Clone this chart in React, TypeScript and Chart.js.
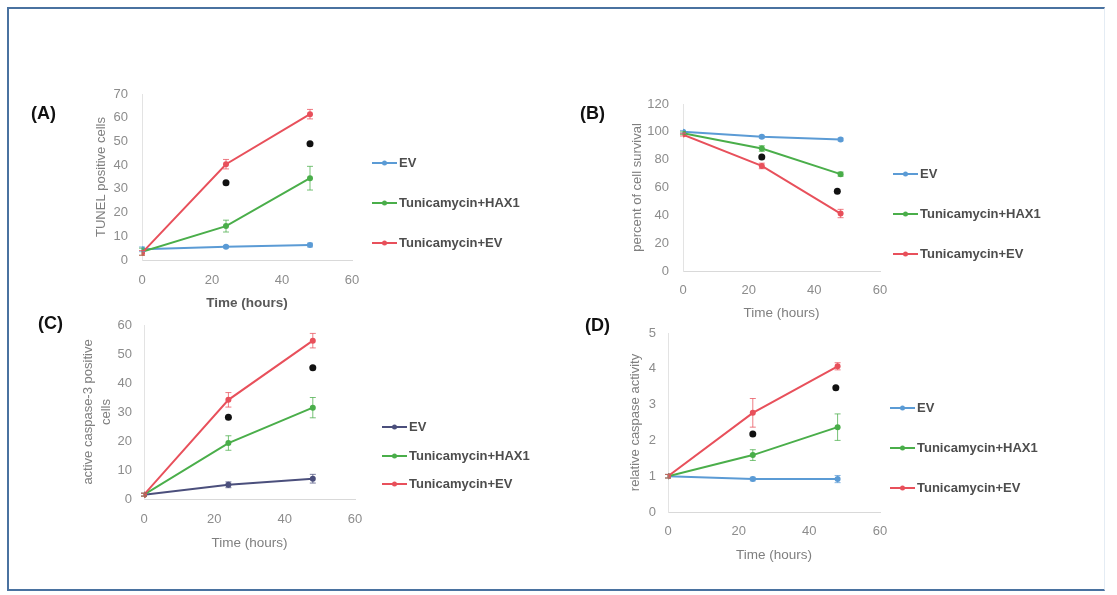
import React, { useEffect, useRef } from "react";
import { Chart, registerables } from "chart.js";

Chart.register(...registerables);

// ---------- shared data ----------
const timeHours = [0, 24, 48];
const seriesLabels = ["EV", "Tunicamycin+HAX1", "Tunicamycin+EV"];
const starTimes = [24, 48];

// ---------- (A) TUNEL positive cells ----------
const tunelEV = [4.5, 5.6, 6.3];
const tunelEVErr = [1, 0.5, 0.8];
const tunelHAX1 = [3.5, 14.3, 34.5];
const tunelHAX1Err = [1.5, 2.5, 5];
const tunelTunEV = [3, 40.4, 61.5];
const tunelTunEVErr = [1, 2, 2];
const tunelStars = [32.6, 49];

// ---------- (B) percent of cell survival ----------
const survivalEV = [100, 96.5, 94.5];
const survivalEVErr = [1, 1, 1];
const survivalHAX1 = [99, 88, 69.6];
const survivalHAX1Err = [1, 2, 1.5];
const survivalTunEV = [98, 75.5, 41.3];
const survivalTunEVErr = [1, 2, 3];
const survivalStarTimes = [24, 47];
const survivalStars = [82, 57.3];

// ---------- (C) active caspase-3 positive cells ----------
const casp3EV = [1.5, 4.9, 7.0];
const casp3EVErr = [0.5, 1, 1.5];
const casp3HAX1 = [1.5, 19.3, 31.5];
const casp3HAX1Err = [0.5, 2.5, 3.5];
const casp3TunEV = [1.5, 34.2, 54.6];
const casp3TunEVErr = [0.5, 2.5, 2.5];
const casp3Stars = [28.2, 45.3];

// ---------- (D) relative caspase activity ----------
const caspActEV = [1, 0.92, 0.92];
const caspActEVErr = [0.05, 0.05, 0.1];
const caspActHAX1 = [1, 1.59, 2.37];
const caspActHAX1Err = [0.05, 0.15, 0.37];
const caspActTunEV = [1, 2.77, 4.07];
const caspActTunEVErr = [0.05, 0.4, 0.1];
const caspActStarTimes = [24, 47.5];
const caspActStars = [2.18, 3.47];

// ---------- axes ----------
const xMax = 60;
const xStep = 20;
const xTitle = "Time (hours)";

const BLUE = "#5b9bd5";
const NAVY = "#4b4f7c";
const GREEN = "#4aae4a";
const RED = "#e8505b";

const W = 1117;
const H = 595;
const FONT = "'Liberation Sans', Arial, sans-serif";

type PanelSpec = {
  series: number[][];
  errors: number[][];
  colors: string[];
  starX: number[];
  starY: number[];
  yMax: number;
  yStep: number;
  yTitle: string | string[];
  xTitleBold: boolean;
  geo: {
    L: number; R: number; T: number; B: number;
    yTitleX: number; xTitleY: number;
    yTickPad: number; xTickPad: number;
    legendX: number; legendY: number[];
    yTitleLH?: number;
  };
};

const panels: PanelSpec[] = [
  {
    series: [tunelEV, tunelHAX1, tunelTunEV],
    errors: [tunelEVErr, tunelHAX1Err, tunelTunEVErr],
    colors: [BLUE, GREEN, RED],
    starX: starTimes,
    starY: tunelStars,
    yMax: 70,
    yStep: 10,
    yTitle: "TUNEL positive cells",
    xTitleBold: true,
    geo: { L: 142, R: 352, T: 94, B: 260, yTitleX: 101, xTitleY: 303, yTickPad: 14, xTickPad: 13, legendX: 372, legendY: [163, 203, 243] },
  },
  {
    series: [survivalEV, survivalHAX1, survivalTunEV],
    errors: [survivalEVErr, survivalHAX1Err, survivalTunEVErr],
    colors: [BLUE, GREEN, RED],
    starX: survivalStarTimes,
    starY: survivalStars,
    yMax: 120,
    yStep: 20,
    yTitle: "percent of cell survival",
    xTitleBold: false,
    geo: { L: 683, R: 880, T: 104, B: 271, yTitleX: 637, xTitleY: 313, yTickPad: 14, xTickPad: 12, legendX: 893, legendY: [174, 214, 254] },
  },
  {
    series: [casp3EV, casp3HAX1, casp3TunEV],
    errors: [casp3EVErr, casp3HAX1Err, casp3TunEVErr],
    colors: [NAVY, GREEN, RED],
    starX: starTimes,
    starY: casp3Stars,
    yMax: 60,
    yStep: 10,
    yTitle: ["active caspase-3 positive", "cells"],
    xTitleBold: false,
    geo: { L: 144, R: 355, T: 325, B: 499, yTitleX: 88, xTitleY: 543, yTickPad: 12, xTickPad: 13, legendX: 382, legendY: [427, 456, 484], yTitleLH: 1.4 },
  },
  {
    series: [caspActEV, caspActHAX1, caspActTunEV],
    errors: [caspActEVErr, caspActHAX1Err, caspActTunEVErr],
    colors: [BLUE, GREEN, RED],
    starX: caspActStarTimes,
    starY: caspActStars,
    yMax: 5,
    yStep: 1,
    yTitle: "relative caspase activity",
    xTitleBold: false,
    geo: { L: 668, R: 880, T: 333, B: 512, yTitleX: 635, xTitleY: 555, yTickPad: 12, xTickPad: 12, legendX: 890, legendY: [408, 448, 488] },
  },
];

const errorBarPlugin = {
  id: "errorBars",
  afterDatasetsDraw(chart: any) {
    const { ctx } = chart;
    const xs = chart.scales.x;
    const ys = chart.scales.y;
    chart.data.datasets.forEach((ds: any) => {
      if (!ds.errors) return;
      ctx.save();
      ctx.strokeStyle = ds.borderColor;
      ctx.globalAlpha = 0.75;
      ctx.lineWidth = 1;
      ds.data.forEach((p: any, i: number) => {
        const e = ds.errors[i];
        const px = xs.getPixelForValue(p.x);
        const top = ys.getPixelForValue(p.y + e);
        const bot = ys.getPixelForValue(p.y - e);
        ctx.beginPath();
        ctx.moveTo(px, top);
        ctx.lineTo(px, bot);
        ctx.moveTo(px - 3, top);
        ctx.lineTo(px + 3, top);
        ctx.moveTo(px - 3, bot);
        ctx.lineTo(px + 3, bot);
        ctx.stroke();
      });
      ctx.restore();
    });
  },
};

const legendPlugin = {
  id: "sideLegend",
  afterDraw(chart: any, _args: any, opts: any) {
    const { ctx } = chart;
    ctx.save();
    chart.data.datasets.forEach((ds: any, i: number) => {
      if (ds.isStar) return;
      const y = opts.y[i];
      const x = opts.x;
      ctx.strokeStyle = ds.borderColor;
      ctx.lineWidth = 2;
      ctx.beginPath();
      ctx.moveTo(x, y);
      ctx.lineTo(x + 25, y);
      ctx.stroke();
      ctx.fillStyle = ds.borderColor;
      ctx.beginPath();
      ctx.arc(x + 12.5, y, 2.5, 0, Math.PI * 2);
      ctx.fill();
      ctx.fillStyle = "#4d4d4d";
      ctx.font = `bold 13px ${FONT}`;
      ctx.textBaseline = "middle";
      ctx.textAlign = "left";
      ctx.fillText(ds.label, x + 27, y + 0.5);
    });
    ctx.restore();
  },
};

function buildConfig(p: PanelSpec): any {
  const g = p.geo;
  const tickFont = { family: FONT, size: 13 };
  const yTitleSize = 13;
  const yLH = (g.yTitleLH ?? 1.2) * yTitleSize;
  const xTitleSize = 13.5;
  const xLH = 1.2 * xTitleSize;
  const yAxisLeft = g.yTitleX - yLH / 2;
  const yAxisWidth = g.L - yAxisLeft;
  const xAxisHeight = g.xTitleY - g.B + xLH / 2;

  const orders = [2, 1, 0];
  const datasets: any[] = p.series.map((vals, i) => ({
    label: seriesLabels[i],
    data: timeHours.map((t, k) => ({ x: t, y: vals[k] })),
    errors: p.errors[i],
    borderColor: p.colors[i],
    backgroundColor: p.colors[i],
    pointBackgroundColor: p.colors[i],
    pointBorderColor: p.colors[i],
    borderWidth: 2,
    pointRadius: 3,
    pointBorderWidth: 0,
    tension: 0,
    order: orders[i],
  }));
  datasets.push({
    label: "significance",
    isStar: true,
    data: p.starX.map((t, k) => ({ x: t, y: p.starY[k] })),
    showLine: false,
    borderColor: "#111111",
    backgroundColor: "#111111",
    pointBackgroundColor: "#111111",
    pointRadius: 3.5,
    pointBorderWidth: 0,
    order: -1,
  });

  return {
    type: "line",
    data: { datasets },
    options: {
      responsive: false,
      animation: false,
      devicePixelRatio: 1,
      events: [],
      layout: {
        padding: {
          left: yAxisLeft,
          top: g.T,
          right: W - g.R,
          bottom: H - g.B - xAxisHeight,
        },
      },
      plugins: {
        legend: { display: false },
        tooltip: { enabled: false },
        title: { display: false },
        sideLegend: { x: g.legendX, y: g.legendY },
      },
      scales: {
        x: {
          type: "linear",
          min: 0,
          max: xMax,
          ticks: { stepSize: xStep, padding: g.xTickPad, font: tickFont, color: "#8c8c8c", maxRotation: 0 },
          grid: { display: false, drawTicks: false },
          border: { display: true, color: "#d9d9d9", width: 1 },
          title: {
            display: true,
            text: xTitle,
            padding: 0,
            color: p.xTitleBold ? "#595959" : "#7f7f7f",
            font: { family: FONT, size: xTitleSize, weight: p.xTitleBold ? "bold" : "normal" },
          },
          afterFit: (s: any) => {
            s.height = xAxisHeight;
          },
        },
        y: {
          type: "linear",
          min: 0,
          max: p.yMax,
          ticks: { stepSize: p.yStep, padding: g.yTickPad, font: tickFont, color: "#8c8c8c" },
          grid: { display: false, drawTicks: false },
          border: { display: true, color: "#e3e3e3", width: 1 },
          title: {
            display: true,
            text: p.yTitle,
            padding: 0,
            color: "#7f7f7f",
            font: { family: FONT, size: yTitleSize, lineHeight: g.yTitleLH ?? 1.2 },
          },
          afterFit: (s: any) => {
            s.width = yAxisWidth;
          },
        },
      },
    },
    plugins: [errorBarPlugin, legendPlugin],
  };
}

function Panel({ spec }: { spec: PanelSpec }) {
  const ref = useRef<HTMLCanvasElement | null>(null);
  useEffect(() => {
    if (!ref.current) return;
    const chart = new Chart(ref.current, buildConfig(spec));
    return () => chart.destroy();
  }, [spec]);
  return (
    <canvas
      ref={ref}
      width={W}
      height={H}
      style={{ position: "absolute", left: 0, top: 0, width: W, height: H }}
    />
  );
}

const panelLabels = [
  { text: "(A)", x: 31, y: 113 },
  { text: "(B)", x: 580, y: 113 },
  { text: "(C)", x: 38, y: 323 },
  { text: "(D)", x: 585, y: 325 },
];

export default function App() {
  return (
    <div
      style={{
        position: "absolute",
        left: 0,
        top: 0,
        width: W,
        height: H,
        overflow: "hidden",
        background: "#ffffff",
        fontFamily: FONT,
      }}
    >
      <div
        style={{
          position: "absolute",
          left: 7,
          top: 7,
          width: 1098,
          height: 584,
          borderLeft: "2px solid #4a72a0",
          borderTop: "2px solid #4a72a0",
          borderBottom: "2px solid #4a72a0",
          borderRight: "1px solid #e4ecf4",
          boxSizing: "border-box",
        }}
      />
      {panels.map((p, i) => (
        <Panel key={i} spec={p} />
      ))}
      {panelLabels.map((l) => (
        <div
          key={l.text}
          style={{
            position: "absolute",
            left: l.x,
            top: l.y,
            transform: "translateY(-50%)",
            fontWeight: "bold",
            fontSize: 18,
            lineHeight: "21px",
            color: "#111",
          }}
        >
          {l.text}
        </div>
      ))}
    </div>
  );
}
